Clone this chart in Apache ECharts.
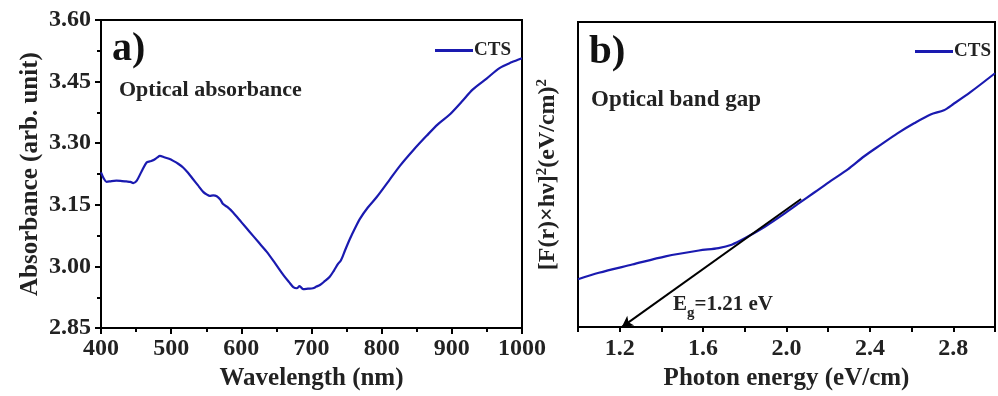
<!DOCTYPE html>
<html>
<head>
<meta charset="utf-8">
<script src="https://cdn.jsdelivr.net/npm/echarts@6/dist/echarts.min.js"></script>
<style>html,body{margin:0;padding:0;background:#fff;}#c{width:998px;height:396px;}</style>
</head>
<body>
<div id="c"></div>
<script>
// Panel a) absorbance vs wavelength
const waveX = [400,404,408,415,422,430,436,442,446,451,458,465,470,475,480,484,490,497,503,510,517,524,531,538,546,551,555,560,565,570,574,580,588,600,612,624,636,648,660,668,674,679,683,688,695,702,707,712,718,726,732,738,742,748,755,762,769,780,793,810,826,845,864,880,897,914,930,950,968,985,1000];
const absY  = [3.229,3.214,3.206,3.208,3.209,3.208,3.207,3.206,3.203,3.209,3.232,3.253,3.256,3.259,3.265,3.269,3.266,3.262,3.257,3.250,3.241,3.228,3.213,3.198,3.181,3.175,3.172,3.173,3.171,3.163,3.152,3.145,3.132,3.108,3.084,3.060,3.036,3.008,2.979,2.962,2.950,2.947,2.952,2.945,2.946,2.947,2.951,2.955,2.963,2.975,2.990,3.007,3.015,3.040,3.068,3.093,3.116,3.143,3.169,3.208,3.245,3.283,3.318,3.346,3.370,3.401,3.431,3.458,3.483,3.497,3.507];
// Panel b) Tauc plot
const energyX = [1.0,1.10,1.26,1.42,1.58,1.674,1.737,1.80,1.896,1.99,2.055,2.135,2.214,2.294,2.373,2.453,2.532,2.612,2.691,2.755,2.802,2.882,3.0];
const taucY  = [15.7,17.8,20.5,23.2,25.1,25.9,27.0,29.1,32.9,37.2,40.4,44.2,48.0,51.7,56.0,59.8,63.5,66.8,69.7,71.1,73.2,77.0,83.2];
const tangentStart = [2.07, 42.0];
const tangentEnd = [1.21, 0];
const rightLabelTicks = [1.2,1.6,2.0,2.4,2.8];

const FF = '"Liberation Serif","Times New Roman",serif';
const BLUE = '#1a1ab0';
const chart = echarts.init(document.getElementById('c'), null, {renderer:'canvas'});
const axisLineStyle = {lineStyle:{color:'#000', width:2}};
chart.setOption({
  animation:false,
  backgroundColor:'#fff',
  grid:[
    {left:101, top:20, width:421, height:310, show:true, borderColor:'#000', borderWidth:2, backgroundColor:'transparent'},
    {left:578, top:22, width:418, height:310, show:true, borderColor:'#000', borderWidth:2, backgroundColor:'transparent'}
  ],
  legend:[
    {data:['CTS'], left:430, top:36, itemWidth:38, itemHeight:3, icon:'rect', itemGap:2, selectedMode:false,
     textStyle:{fontFamily:FF, fontWeight:'bold', fontSize:19, color:'#222', padding:[0,0,0,-4]}},
    {data:['CTS'], left:910, top:37, itemWidth:38, itemHeight:3, icon:'rect', itemGap:2, selectedMode:false,
     textStyle:{fontFamily:FF, fontWeight:'bold', fontSize:19, color:'#222', padding:[0,0,0,-4]}}
  ],
  xAxis:[
    {gridIndex:0, type:'value', min:400, max:1000, interval:100,
     name:'Wavelength (nm)', nameLocation:'middle', nameGap:36,
     nameTextStyle:{fontFamily:FF, fontWeight:'bold', fontSize:25, color:'#222'},
     axisLine:axisLineStyle, axisTick:{length:6, lineStyle:{width:2,color:'#000'}},
     minorTick:{show:true, splitNumber:2, length:4, lineStyle:{width:2,color:'#000'}},
     splitLine:{show:false},
     axisLabel:{fontFamily:FF, fontWeight:'bold', fontSize:24, color:'#222', margin:9,
       formatter:function(v){ return String(Math.round(v)); }}},
    {gridIndex:1, type:'value', min:1.0, max:3.0, interval:0.2,
     name:'Photon energy (eV/cm)', nameLocation:'middle', nameGap:38,
     nameTextStyle:{fontFamily:FF, fontWeight:'bold', fontSize:25, color:'#222'},
     axisLine:axisLineStyle, axisTick:{length:5, lineStyle:{width:2,color:'#000'}},
     splitLine:{show:false},
     axisLabel:{fontFamily:FF, fontWeight:'bold', fontSize:24, color:'#222', margin:10, showMinLabel:true, showMaxLabel:true,
       formatter:function(v){ return rightLabelTicks.some(t=>Math.abs(t-v)<1e-6) ? v.toFixed(1) : ''; }}}
  ],
  yAxis:[
    {gridIndex:0, type:'value', min:2.85, max:3.60, interval:0.15,
     name:'Absorbance (arb. unit)', nameLocation:'middle', nameGap:58,
     nameTextStyle:{fontFamily:FF, fontWeight:'bold', fontSize:25, color:'#222'},
     axisLine:axisLineStyle, axisTick:{length:6, lineStyle:{width:2,color:'#000'}},
     minorTick:{show:true, splitNumber:2, length:4, lineStyle:{width:2,color:'#000'}},
     splitLine:{show:false},
     axisLabel:{fontFamily:FF, fontWeight:'bold', fontSize:24, color:'#222', margin:10,
       formatter:function(v){ return v.toFixed(2); }}},
    {gridIndex:1, type:'value', min:0, max:100,
     name:'{a|[F(r)×hν]}{s|2}{a|(eV/cm)}{s|2}', nameLocation:'middle', nameGap:18,
     nameTextStyle:{fontFamily:FF, fontWeight:'bold', fontSize:24, color:'#222',
       rich:{a:{fontFamily:FF, fontWeight:'bold', fontSize:24, color:'#222'},
             s:{fontFamily:FF, fontWeight:'bold', fontSize:15, color:'#222', verticalAlign:'top', padding:[0,0,10,0]}}},
     axisLine:axisLineStyle, axisTick:{show:false}, axisLabel:{show:false}, splitLine:{show:false}}
  ],
  series:[
    {name:'CTS', type:'line', xAxisIndex:0, yAxisIndex:0, showSymbol:false, symbol:'none', smooth:0.3,
     lineStyle:{color:BLUE, width:2.2}, itemStyle:{color:BLUE},
     data: waveX.map((x,i)=>[x, absY[i]])},
    {name:'CTS', type:'line', xAxisIndex:1, yAxisIndex:1, showSymbol:false, symbol:'none', smooth:0.3,
     lineStyle:{color:BLUE, width:2.2}, itemStyle:{color:BLUE},
     data: energyX.map((x,i)=>[x, taucY[i]]),
     markLine:{silent:true, symbol:['none','arrow'], symbolSize:[9,11], animation:false,
       label:{show:false}, lineStyle:{color:'#000', width:2, type:'solid'},
       data:[[{coord:tangentStart},{coord:tangentEnd}]]}}
  ],
  graphic:[
    {type:'text', left:112, top:30, style:{text:'a)', font:'bold 40px '+FF, fill:'#111'}},
    {type:'text', left:119, top:79, style:{text:'Optical absorbance', font:'bold 22px '+FF, fill:'#222'}},
    {type:'text', left:589, top:32, style:{text:'b)', font:'bold 41px '+FF, fill:'#111'}},
    {type:'text', left:591, top:89, style:{text:'Optical band gap', font:'bold 23px '+FF, fill:'#222'}},
    {type:'text', left:673, top:294, style:{text:'{e|E}{g|g}{e|=1.21 eV}',
      rich:{e:{font:'bold 21px '+FF, fill:'#222', verticalAlign:'top'},
            g:{font:'bold 15px '+FF, fill:'#222', padding:[12,0,0,0]}}}}
  ]
});
</script>
</body>
</html>
